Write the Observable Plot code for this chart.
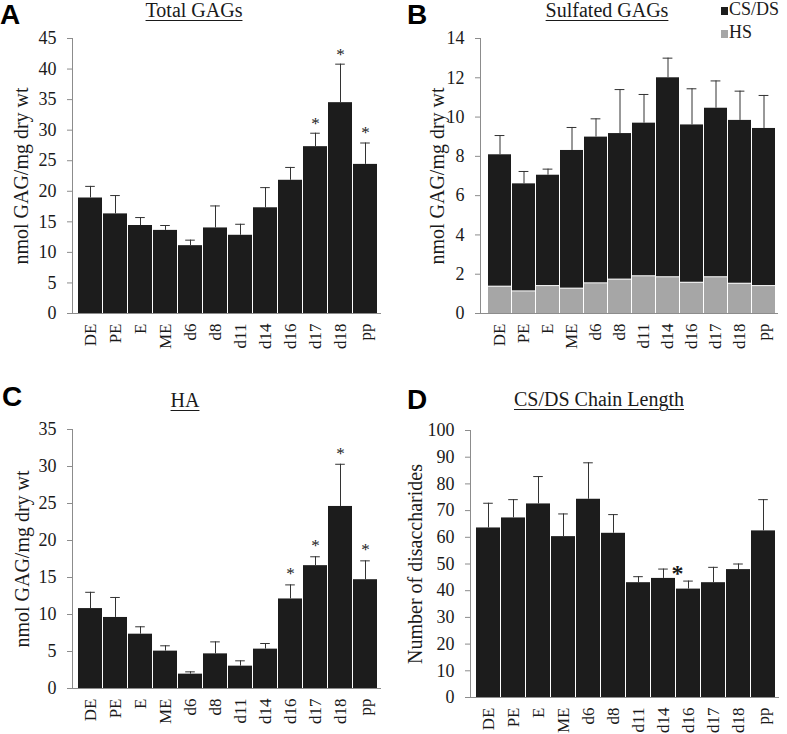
<!DOCTYPE html>
<html><head><meta charset="utf-8">
<script src="https://cdn.jsdelivr.net/npm/d3@7"></script>
<script src="https://cdn.jsdelivr.net/npm/@observablehq/plot@0.6"></script>
<style>
body{margin:0;background:#fff;}
#root{position:relative;width:787px;height:734px;overflow:hidden;font-family:"Liberation Serif","Times New Roman",serif;color:#1a1a1a;background:#fff;}
.panel{position:absolute;}
.panel text{font-family:"Liberation Serif","Times New Roman",serif !important;}
.title{position:absolute;font-size:20px;line-height:20px;text-decoration:underline;text-underline-offset:3px;text-decoration-thickness:1px;white-space:nowrap;transform:translateX(-50%);}
.letter{position:absolute;font-family:"Liberation Sans",Arial,sans-serif;font-weight:bold;font-size:28px;line-height:28px;color:#000;}
.lg{position:absolute;font-size:18px;line-height:16px;white-space:nowrap;}
.sw{position:absolute;width:7px;height:8px;}
</style>
</head><body>
<div id="root"></div>
<script>
// ---- data ----
const cats = ["DE","PE","E","ME","d6","d8","d11","d14","d16","d17","d18","pp"];

// A: Total GAGs (nmol GAG/mg dry wt)
const totalGAG   = [18.9,16.3,14.4,13.6,11.1,14.0,12.8,17.3,21.8,27.3,34.5,24.4];
const totalGAGsd = [1.9,3.0,1.3,0.8,0.9,3.6,1.8,3.3,2.1,2.2,6.3,3.5];
const totalStars = ["d17","d18","pp"];
const ticksA = [0,5,10,15,20,25,30,35,40,45];

// B: Sulfated GAGs (stacked HS + CS/DS)
const hsVals   = [1.34,1.10,1.37,1.24,1.51,1.70,1.87,1.82,1.54,1.82,1.49,1.37];
const csdsVals = [6.74,5.50,5.67,7.06,7.47,7.46,7.82,10.18,8.06,8.63,8.34,8.05];
const sulfSd   = [0.98,0.63,0.31,1.17,0.93,2.24,1.46,1.0,1.84,1.39,1.49,1.68];
const ticksB = [0,2,4,6,8,10,12,14];
const seriesNames = ["CS/DS","HS"];
const seriesColors = ["#1c1c1c","#a6a6a6"];

// C: HA
const haVals = [10.8,9.6,7.34,5.05,1.94,4.68,3.02,5.32,12.1,16.6,24.6,14.7];
const haSd   = [2.2,2.7,1.0,0.72,0.31,1.62,0.72,0.76,1.9,1.2,5.7,2.55];
const haStars = ["d16","d17","d18","pp"];
const ticksC = [0,5,10,15,20,25,30,35];

// D: CS/DS chain length
const chainVals = [63.5,67.25,72.5,60.25,74.25,61.5,43.0,44.6,40.6,43.0,47.9,62.4];
const chainSd   = [9.25,6.85,10.25,8.5,13.65,7.0,2.25,3.5,3.0,5.75,2.1,11.7];
const chainStars = ["d14"];
const ticksD = [0,10,20,30,40,50,60,70,80,90,100];

const titles = ["Total GAGs","Sulfated GAGs","HA","CS/DS Chain Length"];
const letters = ["A","B","C","D"];
const yLabels = ["nmol GAG/mg dry wt","nmol GAG/mg dry wt","nmol GAG/mg dry wt","Number of disaccharides"];

// ---- drawing ----
const FONT = '"Liberation Serif","Times New Roman",serif';
const AX = "#8c8c8c", ERR = "#333", BAR = "#1c1c1c", TXT = "#1a1a1a";
const root = document.getElementById("root");

function makePanel(cfg){
  const rows = cats.map((c,i)=>({cat:c, v:cfg.values[i], hi:cfg.values[i]+cfg.sd[i], hs: cfg.hs ? cfg.hs[i] : 0}));
  const bars = cfg.hs
    ? [Plot.barY(rows,{x:"cat", y:"hs", fill:seriesColors[1]}),
       Plot.barY(rows,{x:"cat", y1:"hs", y2:"v", fill:seriesColors[0], insetBottom:1})]
    : [Plot.barY(rows,{x:"cat", y:"v", fill:BAR})];
  const p = Plot.plot({
    width:cfg.width, height:cfg.height,
    marginLeft:cfg.mL, marginRight:cfg.mR, marginTop:cfg.mT, marginBottom:cfg.mB,
    style:{fontFamily:FONT, fontSize:"18px", color:TXT, background:"transparent", overflow:"visible"},
    x:{domain:cats, type:"band", paddingInner:0.05, paddingOuter:0, insetLeft:cfg.insetL, insetRight:0, axis:null},
    y:{domain:cfg.yDomain},
    marks:[
      ...bars,
      Plot.ruleX(rows,{x:"cat", y1:"v", y2:"hi", stroke:ERR, strokeWidth:1}),
      Plot.tickY(rows,{x:"cat", y:"hi", stroke:ERR, strokeWidth:1, insetLeft:cfg.cap, insetRight:cfg.cap}),
      Plot.ruleY([0],{stroke:AX}),
      Plot.frame({anchor:"left", stroke:AX}),
      Plot.axisY({ticks:cfg.ticks, tickSize:5, tickPadding:11, stroke:AX, fill:TXT, fontSize:18, label:null, tickFormat:d=>String(d)}),
      // x tick labels (rotated category names)
      Plot.text(cats,{x:d=>d, text:d=>d, frameAnchor:"bottom", rotate:-90, textAnchor:"end", lineAnchor:"middle", dy:10, fontSize:17, fill:TXT}),
      // y axis title
      Plot.text([cfg.ylabel],{frameAnchor:"left", rotate:-90, textAnchor:"middle", lineAnchor:"middle", dx:-cfg.labelOffset, fontSize:20, fill:TXT}),
      Plot.text(rows.filter(d=>cfg.stars.includes(d.cat)),{x:"cat", y:"hi", text:()=>"*", fill:TXT, lineAnchor:"middle", ...cfg.starStyle})
    ]
  });
  p.classList.add("panel");
  p.style.left = cfg.left+"px";
  p.style.top = cfg.top+"px";
  root.appendChild(p);
}

makePanel({values:totalGAG, sd:totalGAGsd, stars:totalStars, ticks:ticksA, yDomain:[0,45], ylabel:yLabels[0],
  left:0, top:0, width:393, height:360, mL:72, mR:12, mT:38, mB:47, insetL:1, labelOffset:51, cap:7.2,
  starStyle:{fontSize:17, dy:-10}});
makePanel({values:hsVals.map((h,i)=>h+csdsVals[i]), hs:hsVals, sd:sulfSd, stars:[], ticks:ticksB, yDomain:[0,14], ylabel:yLabels[1],
  left:393, top:0, width:394, height:360, mL:87, mR:9, mT:38, mB:47, insetL:5, labelOffset:43, cap:6.6,
  starStyle:{}});
makePanel({values:haVals, sd:haSd, stars:haStars, ticks:ticksC, yDomain:[0,35], ylabel:yLabels[2],
  left:0, top:360, width:393, height:374, mL:72, mR:12, mT:69, mB:46, insetL:1, labelOffset:50, cap:7.2,
  starStyle:{fontSize:17, dy:-11}});
makePanel({values:chainVals, sd:chainSd, stars:chainStars, ticks:ticksD, yDomain:[0,100], ylabel:yLabels[3],
  left:393, top:360, width:394, height:374, mL:77, mR:8, mT:70, mB:37, insetL:1, labelOffset:55, cap:7.2,
  starStyle:{fontSize:24, fontWeight:"bold", dx:14, dy:4}});

// titles, panel letters, legend
const titlePos = [[194,0],[607,0],[185,390],[599,389]];
titles.forEach((t,i)=>{
  const d = document.createElement("div"); d.className="title"; d.textContent=t;
  d.style.left = titlePos[i][0]+"px"; d.style.top = titlePos[i][1]+"px"; root.appendChild(d);
});
const letterPos = [[0,1],[407,1],[2,383],[407,386]];
letters.forEach((t,i)=>{
  const d = document.createElement("div"); d.className="letter"; d.textContent=t;
  d.style.left = letterPos[i][0]+"px"; d.style.top = letterPos[i][1]+"px"; root.appendChild(d);
});
const legPos = [[721,7,729,1],[721,30,729,24]];
seriesNames.forEach((s,i)=>{
  const sw = document.createElement("div"); sw.className="sw"; sw.style.background=seriesColors[i];
  sw.style.left=legPos[i][0]+"px"; sw.style.top=legPos[i][1]+"px"; root.appendChild(sw);
  const t = document.createElement("div"); t.className="lg"; t.textContent=s;
  t.style.left=legPos[i][2]+"px"; t.style.top=legPos[i][3]+"px"; root.appendChild(t);
});
</script>
</body></html>
